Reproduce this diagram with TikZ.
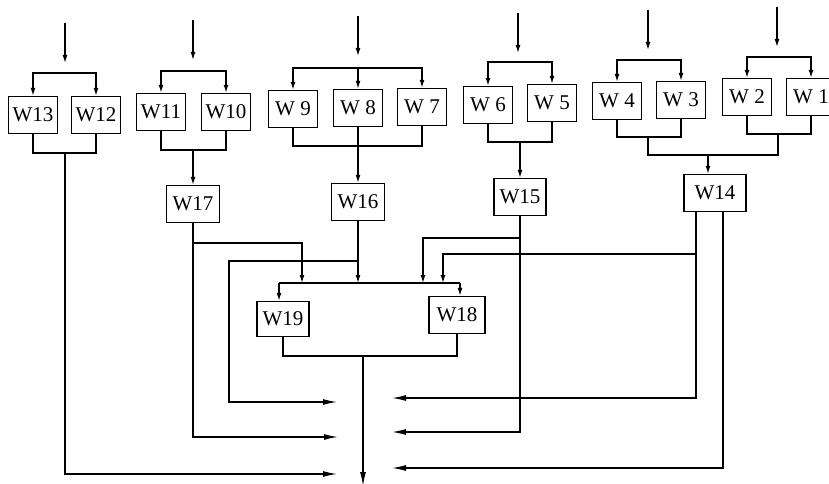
\documentclass[tikz,border=0pt]{standalone}
\usepackage{fontspec}
\setmainfont{Liberation Serif}
\usetikzlibrary{arrows.meta,calc}
\begin{document}
\begin{tikzpicture}[x=1pt,y=-1pt,
  wbox/.style={draw,line width=1.4pt,minimum width=49pt,minimum height=37pt,inner sep=1pt,font=\fontsize{21}{24}\selectfont},
  line/.style={line width=1.3pt},
  arr/.style={line width=1.3pt,-{Latex[length=8pt,width=5pt]}},
  outarr/.style={line width=1.3pt,-{Latex[length=14pt,width=6pt]}}]
\clip (0,0) rectangle (829,484);
\node[wbox] (w13) at (33,115) {W13};
\node[wbox] (w12) at (96,115) {W12};
\node[wbox] (w11) at (161,112) {W11};
\node[wbox] (w10) at (226,112) {W10};
\node[wbox] (w9) at (293,109) {W 9};
\node[wbox] (w8) at (358,108) {W 8};
\node[wbox] (w7) at (422,107) {W 7};
\node[wbox] (w6) at (488,105) {W 6};
\node[wbox] (w5) at (552,103) {W 5};
\node[wbox] (w4) at (617,101) {W 4};
\node[wbox] (w3) at (681,100) {W 3};
\node[wbox] (w2) at (747,97) {W 2};
\node[wbox] (w1) at (811,97) {W 1};
\node[wbox,minimum width=53pt] (w17) at (193,204) {W17};
\node[wbox,minimum width=53pt] (w16) at (358,202) {W16};
\node[wbox,minimum width=52pt] (w15) at (520,197) {W15};
\node[wbox,minimum width=62pt] (w14) at (715,193) {W14};
\node[wbox,minimum width=52pt,minimum height=35pt] (w19) at (283,319) {W19};
\node[wbox,minimum width=56pt] (w18) at (457,315) {W18};
% inputs
\coordinate (i1) at (65,23);
\coordinate (i2) at (193,20);
\coordinate (i3) at (358,16);
\coordinate (i4) at (518,13);
\coordinate (i5) at (648,10);
\coordinate (i6) at (777,7);
\coordinate (b1) at (65,73);
\coordinate (b2) at (193,71);
\coordinate (b3) at (358,68);
\coordinate (b4) at (518,62);
\coordinate (b5) at (648,60);
\coordinate (b6) at (777,57);
\foreach \i in {1,...,6}
  \draw[arr] (i\i) -- ++(0,40);
\draw[arr] (b1) -| (w13);
\draw[arr] (b1) -| (w12);
\draw[arr] (b2) -| (w11);
\draw[arr] (b2) -| (w10);
\draw[arr] (b3) -| (w9);
\draw[arr] (b3) -- (w8);
\draw[arr] (b3) -| (w7);
\draw[arr] (b4) -| (w6);
\draw[arr] (b4) -| (w5);
\draw[arr] (b5) -| (w4);
\draw[arr] (b5) -| (w3);
\draw[arr] (b6) -| (w2);
\draw[arr] (b6) -| (w1);
% merges
\coordinate (m1) at (65,153);
\coordinate (m2) at (193,150);
\coordinate (m3) at (358,146);
\coordinate (m4) at (520,142);
\coordinate (m5) at (648,137);
\coordinate (m6) at (778,134);
\coordinate (m7) at (708,155);
\draw[line] (w13) |- (m1) -| (w12);
\draw[line] (w11) |- (m2) -| (w10);
\draw[line] (w9) |- (m3) -| (w7);
\draw[line] (w6) |- (m4) -| (w5);
\draw[line] (w4) |- (m5) -| (w3);
\draw[line] (w2) |- (m6) -| (w1);
\draw[line] (m5) |- (m7) -| (m6);
\draw[arr] (m2) -- (w17);
\draw[arr] (w8) -- (w16);
\draw[arr] (m4) -- (w15);
\draw[arr] (m7) -- (m7 |- w14.north);
% bus to W19 / W18
\coordinate (bl) at (279,283);
\coordinate (br) at (460,283);
\coordinate (t17) at (302,283);
\coordinate (t16) at (358,283);
\coordinate (t15) at (423,283);
\coordinate (t14) at (443,283);
\draw[line] (bl) -- (br);
\draw[arr] (bl) -- (bl |- w19.north);
\draw[arr] (br) -- (br |- w18.north);
\coordinate (k17) at (193,243);
\coordinate (k16) at (358,261);
\coordinate (k15) at (520,238);
\coordinate (k14) at (696,254);
\draw[arr] (k17) -| (t17);
\draw[arr] (w16) -- (t16);
\draw[arr] (k15) -| (t15);
\draw[arr] (k14) -| (t14);
% outputs
\coordinate (c16) at (229,402);
\coordinate (e16) at (337,402);
\coordinate (e17) at (338,437);
\coordinate (e13) at (337,474);
\coordinate (e14a) at (392,398);
\coordinate (e15) at (392,432);
\coordinate (e14b) at (392,468);
\coordinate (m19) at (363,356);
\coordinate (e0) at (363,486);
\draw[outarr] (k16) -| (c16) -- (e16);
\draw[outarr] (w17) |- (e17);
\draw[outarr] (m1) |- (e13);
\draw[outarr] ($(w14.south)+(-19,0)$) |- (e14a);
\draw[outarr] (w15) |- (e15);
\draw[outarr] ($(w14.south)+(8,0)$) |- (e14b);
\draw[line] (w19) |- (m19) -| (w18);
\draw[outarr] (m19) -- (e0);
\end{tikzpicture}
\end{document}
